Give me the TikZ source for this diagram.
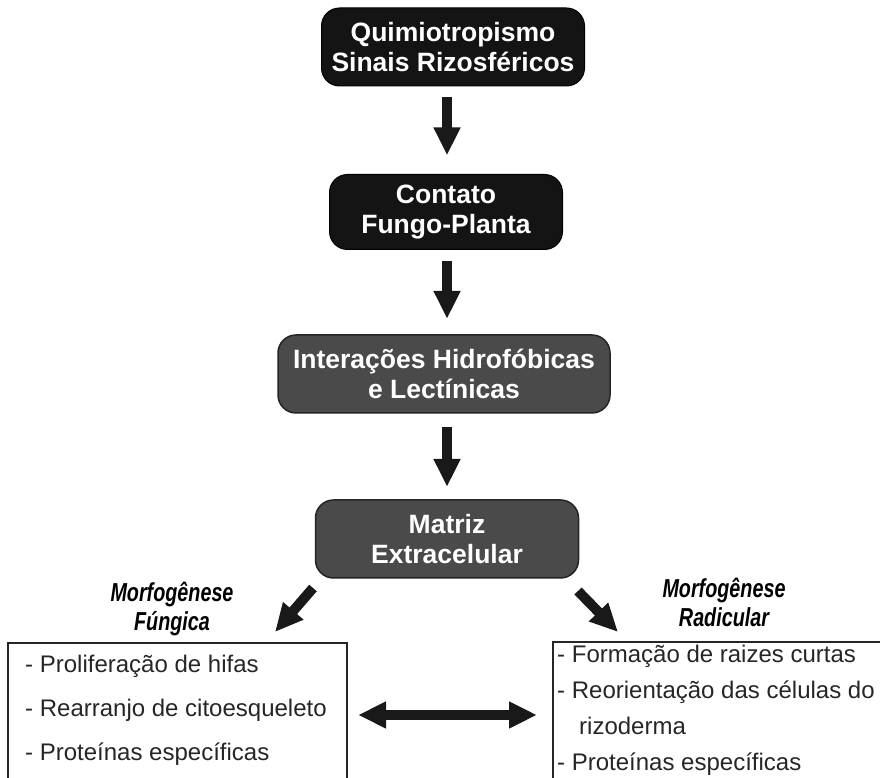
\documentclass[tikz,border=0pt]{standalone}
\usepackage{fontspec}
\setmainfont{Liberation Sans}
\newfontfamily\narrowfont[FakeStretch=0.76]{Liberation Sans}
\usepackage{tikz}
\usetikzlibrary{arrows.meta,positioning,calc}
\definecolor{boxBlack}{HTML}{141414}
\definecolor{boxGray}{HTML}{4A4A4A}
\definecolor{rimGray}{HTML}{242424}

\begin{document}
\begin{tikzpicture}[x=1pt,y=1pt,
  stepbox/.style={rounded corners=18pt,align=center,text=white,inner sep=0pt,outer sep=0pt,
    font=\bfseries\fontsize{26.5}{30}\selectfont},
  blackbox/.style={stepbox,fill=boxBlack,draw=black,line width=1pt},
  graybox/.style={stepbox,fill=boxGray,draw=rimGray,line width=1.5pt},
  listbox/.style={draw=black!85,line width=1.5pt,inner sep=0pt,outer sep=0pt},
  listtext/.style={align=left,inner sep=0pt,anchor=north west,text=black!85},
  morflabel/.style={align=center,inner sep=0pt,font=\narrowfont\bfseries\itshape\fontsize{26}{29}\selectfont},
  bigarrow/.style={line width=10pt,draw=black!90,-{Triangle[width=25pt,length=28pt]}}]
  \useasboundingbox (0,0) rectangle (880,778);

  % main chain
  \node[blackbox,minimum width=263pt,minimum height=78pt] (quimio) at (453,731)
    {Quimiotropismo\\Sinais Rizosféricos};
  \node[blackbox,minimum width=233pt,minimum height=75pt] (contato) at (446,566)
    {Contato\\Fungo-Planta};
  \node[graybox,minimum width=332pt,minimum height=78pt] (interacoes) at (444,404)
    {Interações Hidrofóbicas\\e Lectínicas};
  \node[graybox,minimum width=263pt,minimum height=78pt] (matriz) at (447,239)
    {Matriz\\Extracelular};

  \draw[bigarrow,shorten <=11pt,shorten >=19pt] (quimio.south -| matriz) -- (contato.north -| matriz);
  \draw[bigarrow,shorten <=12pt,shorten >=16pt] (contato.south -| matriz) -- (interacoes.north -| matriz);
  \draw[bigarrow,shorten <=14pt,shorten >=13pt] (interacoes.south -| matriz) -- (matriz.north);

  % morphogenesis branches
  \node[morflabel] (labFung) at (172,169) {Morfogênese\\Fúngica};
  \node[morflabel] (labRad) at (724,176) {Morfogênese\\Radicular};

  \coordinate (fromL) at (313,190);
  \coordinate (toL) at (275,146);
  \coordinate (fromR) at (578,187);
  \coordinate (toR) at (618,146);
  \draw[bigarrow] (fromL) -- (toL);
  \draw[bigarrow] (fromR) -- (toR);

  % bottom boxes
  \node[listbox,anchor=north west,minimum width=339pt,minimum height=144pt] (fungBox) at (8,135) {};
  \node[listbox,anchor=north west,minimum width=340pt,minimum height=146pt] (radBox) at (553,136) {};

  \node[listtext,font=\fontsize{24}{44}\selectfont] (fungList) at (25,123)
    {- Proliferação de hifas\\- Rearranjo de citoesqueleto\\- Proteínas específicas};
  \node[listtext,font=\fontsize{24}{36}\selectfont] (radList) at (557,133)
    {- Formação de raizes curtas\\- Reorientação das células do\\\hspace*{22pt}rizoderma\\- Proteínas específicas};

  \draw[line width=10pt,draw=black!90,{Triangle[width=25pt,length=28pt]}-{Triangle[width=25pt,length=28pt]},
    shorten <=11pt,shorten >=16pt] (fungBox.east) -- (radBox.west);
\end{tikzpicture}
\end{document}
